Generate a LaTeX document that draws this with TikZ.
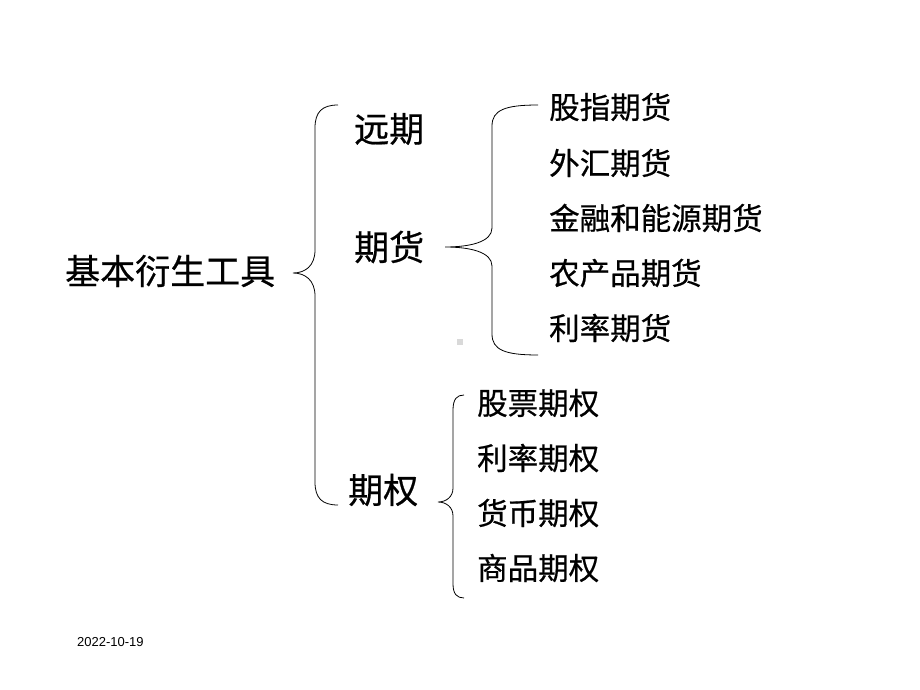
\documentclass[tikz,border=0pt]{standalone}
\usepackage{fontspec}
\newfontfamily\cjk[FakeBold=0.6]{Noto Sans CJK SC}
\newfontfamily\datefont{Liberation Sans}
\begin{document}
\begin{tikzpicture}[x=1pt,y=-1pt,
  big/.style={inner sep=0pt,anchor=west,font=\cjk\fontsize{35}{40}\selectfont},
  item/.style={inner sep=0pt,anchor=west,font=\cjk\fontsize{30.5}{36}\selectfont},
  brace/.style={draw=black,line width=0.8pt}]
\useasboundingbox[fill=white] (0,0) rectangle (920,690);
% nodes
\node[big] (root) at (65,271) {基本衍生工具};
\node[big] (fwd) at (354,129) {远期};
\node[big] (fut) at (354,247) {期货};
\node[big] (opt) at (348,490) {期权};
\node[item] (f1) at (549,107) {股指期货};
\node[item] (f2) at (549,163) {外汇期货};
\node[item] (f3) at (549,218) {金融和能源期货};
\node[item] (f4) at (549,273) {农产品期货};
\node[item] (f5) at (549,328) {利率期货};
\node[item] (o1) at (477,403) {股票期权};
\node[item] (o2) at (477,458) {利率期权};
\node[item] (o3) at (477,513) {货币期权};
\node[item] (o4) at (477,568) {商品期权};
\node[inner sep=0pt,anchor=west,font=\datefont\fontsize{13}{15}\selectfont] (date) at (77,642) {2022-10-19};
\fill[gray!30] (457,339) rectangle (463,345);
% brace 1
\draw[brace] (338,105) .. controls (322,105) and (315,112) .. (315,128) -- (315,250)
  .. controls (315,266) and (305,273) .. (293,273)
  .. controls (305,273) and (315,280) .. (315,296) -- (315,482)
  .. controls (315,498) and (322,505) .. (338,505);
% brace 2
\draw[brace] (538,105) .. controls (505,105) and (492,110) .. (492,126) -- (492,228)
  .. controls (492,242) and (470,247) .. (445,247)
  .. controls (470,247) and (492,252) .. (492,266) -- (492,334)
  .. controls (492,350) and (505,355) .. (538,355);
% brace 3
\draw[brace] (464,395) .. controls (457,395) and (453,399) .. (453,410) -- (453,488)
  .. controls (453,497) and (446,502) .. (438,502)
  .. controls (446,502) and (453,507) .. (453,516) -- (453,584)
  .. controls (453,594) and (457,598) .. (464,598);
\end{tikzpicture}
\end{document}
